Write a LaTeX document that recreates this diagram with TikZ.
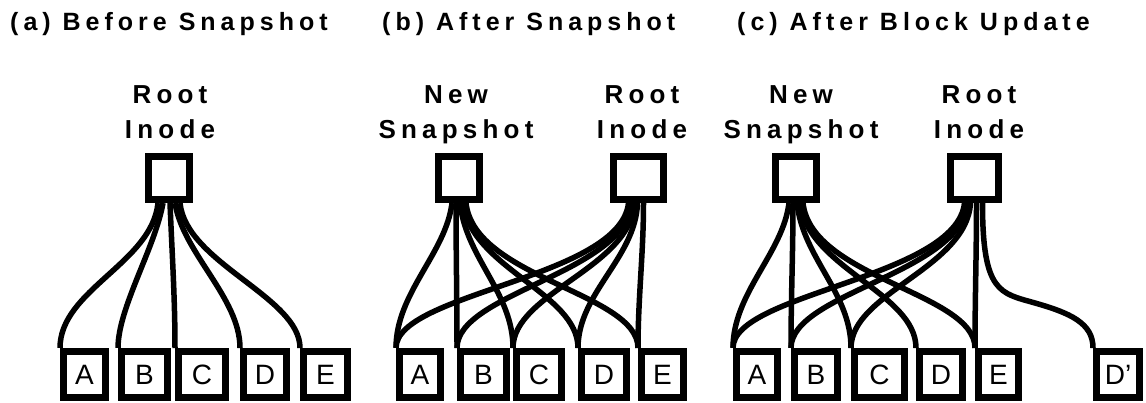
\documentclass[tikz,border=0pt]{standalone}
\usepackage{fontspec}
\setmainfont{Liberation Sans}
\newfontfamily\lblfont[LetterSpace=20]{Liberation Sans}
\begin{document}
\begin{tikzpicture}[x=1pt,y=-1pt,
  blk/.style={draw, line width=7pt, fill=white, inner sep=0pt},
  rootbox/.style={blk, minimum height=43pt, minimum width=41pt},
  leaf/.style={blk, minimum height=46pt, font=\fontsize{28}{28}\selectfont},
  lbl/.style={font=\lblfont\bfseries\fontsize{26}{35}\selectfont, align=center, anchor=north, inner sep=0pt},
  ttl/.style={font=\lblfont\bfseries\fontsize{25}{30}\selectfont, anchor=base west, inner sep=0pt},
  link/.style={line width=5.5pt}]
\fill[white] (0,0) rectangle (1146,403);
\useasboundingbox (0,0) rectangle (1146,403);

% titles
\node[ttl] (tA) at (10,31) {(a) Before Snapshot};
\node[ttl] (tB) at (382,31) {(b) After Snapshot};
\node[ttl] (tC) at (737,31) {(c) After Block Update};

% labels
\node[lbl] (laR) at (170,85.4) {Root\\Inode};
\node[lbl] (lbN) at (456,85.4) {New\\Snapshot};
\node[lbl] (lbR) at (642,85.4) {Root\\Inode};
\node[lbl] (lcN) at (801,85.4) {New\\Snapshot};
\node[lbl] (lcR) at (979,85.4) {Root\\Inode};

% (a)
\node[rootbox] (aR) at (169,178) {};
\node[leaf, minimum width=42pt] (aA) at (84.5,374.5) {A};
\node[leaf, minimum width=46pt] (aB) at (144.5,374.5) {B};
\node[leaf, minimum width=47pt] (aC) at (202,374.5) {C};
\node[leaf, minimum width=43pt] (aD) at (265,374.5) {D};
\node[leaf, minimum width=44pt] (aE) at (325.5,374.5) {E};

% (b)
\node[rootbox] (bN) at (459,178) {};
\node[rootbox, minimum width=50pt] (bR) at (638.5,178) {};
\node[leaf, minimum width=41pt] (bA) at (420,374.5) {A};
\node[leaf, minimum width=46pt] (bB) at (483.5,374.5) {B};
\node[leaf, minimum width=45pt] (bC) at (539,374.5) {C};
\node[leaf, minimum width=45pt] (bD) at (604,374.5) {D};
\node[leaf, minimum width=42pt] (bE) at (662.5,374.5) {E};

% (c)
\node[rootbox] (cN) at (796,178) {};
\node[rootbox, minimum width=48pt] (cR) at (974.5,178) {};
\node[leaf, minimum width=41pt] (cA) at (757,374.5) {A};
\node[leaf, minimum width=43pt] (cB) at (816,374.5) {B};
\node[leaf, minimum width=50pt] (cC) at (879.5,374.5) {C};
\node[leaf, minimum width=43pt] (cD) at (941,374.5) {D};
\node[leaf, minimum width=40pt] (cE) at (998.5,374.5) {E};
\node[leaf, minimum width=43pt] (cDp) at (1118,374.5) {D'};
\coordinate (cDm) at (1035,303);

% (a) links
\draw[link] ([xshift=-11pt]aR.south) .. controls +(-6,60) and +(0,-58) .. (aA.north west);
\draw[link] ([xshift=-6pt]aR.south) .. controls +(-8,45) and +(0,-40) .. (aB.north west);
\draw[link] ([xshift=1pt]aR.south) .. controls +(2,50) and +(0,-50) .. (aC.north west);
\draw[link] ([xshift=6pt]aR.south) .. controls +(8,50) and +(0,-50) .. (aD.north west);
\draw[link] ([xshift=11pt]aR.south) .. controls +(6,60) and +(0,-51) .. (aE.north west);

% (b) links
\draw[link] ([xshift=-7pt]bN.south) .. controls +(-6,50) and +(0,-55) .. (bA.north west);
\draw[link] ([xshift=-3pt]bN.south) .. controls +(0,50) and +(0,-50) .. (bB.north west);
\draw[link] ([xshift=1pt]bN.south) .. controls +(6,55) and +(0,-55) .. (bC.north west);
\draw[link] ([xshift=4pt]bN.south) .. controls +(8,65) and +(0,-55) .. (bD.north west);
\draw[link] ([xshift=7pt]bN.south) .. controls +(8,75) and +(0,-55) .. (bE.north west);
\draw[link] ([xshift=-10pt]bR.south) .. controls +(-8,75) and +(0,-55) .. (bA.north west);
\draw[link] ([xshift=-7pt]bR.south) .. controls +(-6,70) and +(0,-55) .. (bB.north west);
\draw[link] ([xshift=-4pt]bR.south) .. controls +(-4,65) and +(0,-55) .. (bC.north west);
\draw[link] ([xshift=-1pt]bR.south) .. controls +(-2,55) and +(0,-55) .. (bD.north west);
\draw[link] ([xshift=5pt]bR.south) .. controls +(0,50) and +(0,-50) .. (bE.north west);

% (c) links
\draw[link] ([xshift=-7pt]cN.south) .. controls +(-6,50) and +(0,-55) .. (cA.north west);
\draw[link] ([xshift=-3pt]cN.south) .. controls +(0,50) and +(0,-50) .. (cB.north west);
\draw[link] ([xshift=1pt]cN.south) .. controls +(6,55) and +(0,-55) .. (cC.north west);
\draw[link] ([xshift=4pt]cN.south) .. controls +(8,65) and +(0,-55) .. (cD.north west);
\draw[link] ([xshift=7pt]cN.south) .. controls +(8,75) and +(0,-55) .. (cE.north west);
\draw[link] ([xshift=-10pt]cR.south) .. controls +(-8,75) and +(0,-55) .. (cA.north west);
\draw[link] ([xshift=-7pt]cR.south) .. controls +(-6,70) and +(0,-55) .. (cB.north west);
\draw[link] ([xshift=-4pt]cR.south) .. controls +(-4,65) and +(0,-55) .. (cC.north west);
\draw[link] ([xshift=2pt]cR.south) .. controls +(0,50) and +(0,-50) .. (cE.north west);
\draw[link] ([xshift=8pt]cR.south) .. controls +(0,90) and +(-35,-10) .. (cDm)
  .. controls +(35,10) and +(0,-25) .. (cDp.north west);
\end{tikzpicture}
\end{document}
